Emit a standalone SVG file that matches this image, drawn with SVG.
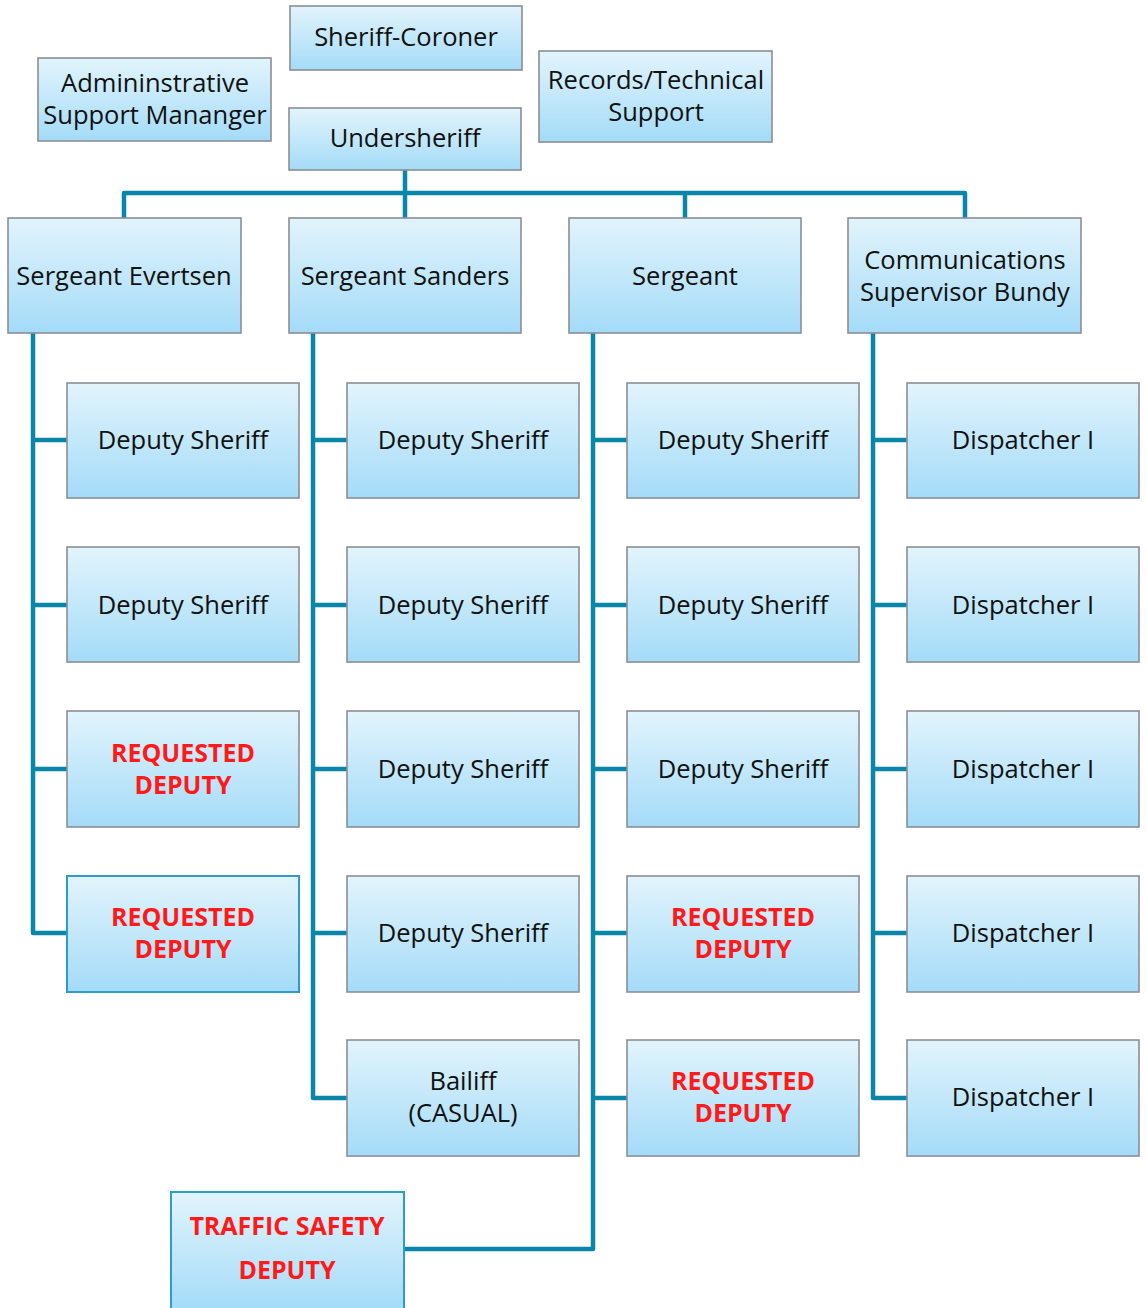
<svg xmlns="http://www.w3.org/2000/svg" width="1147" height="1308" viewBox="0 0 1147 1308">
<defs>
<linearGradient id="g" x1="0" y1="0" x2="0" y2="1">
<stop offset="0" stop-color="#e2f4fc"/>
<stop offset="1" stop-color="#a4dbf8"/>
</linearGradient>
<style>
.b{fill:url(#g);stroke:#8a8f94;stroke-width:1.6}
.r{fill:url(#g);stroke:#2e9cc6;stroke-width:2}
.t{font-family:"Open Sans","Liberation Sans",sans-serif;font-size:25.5px;fill:#111;text-anchor:middle}
.q{font-family:"Open Sans","Liberation Sans",sans-serif;font-size:25px;font-weight:bold;fill:#ff1a1a;text-anchor:middle}
.c{fill:none;stroke:#0a86a9;stroke-width:4.5;stroke-linejoin:round}
</style>
</defs>
<g id="connectors">
<path class="c" d="M405 170V218M124 218V193H965V218M685 193V218"/>
<path class="c" d="M33 333V933H67M33 440H67M33 605H67M33 769H67"/>
<path class="c" d="M313 333V1098H347M313 440H347M313 605H347M313 769H347M313 933H347"/>
<path class="c" d="M593 333V1249H404M593 440H627M593 605H627M593 769H627M593 933H627M593 1098H627"/>
<path class="c" d="M873 333V1098H907M873 440H907M873 605H907M873 769H907M873 933H907"/>
</g>
<g id="sheriff"><rect class="b" x="290" y="6" width="232" height="64"/><text class="t" x="406" y="46">Sheriff-Coroner</text></g>
<g id="admin"><rect class="b" x="38" y="58" width="233" height="83"/><text class="t" x="155" y="92">Admininstrative</text><text class="t" x="155" y="124">Support Mananger</text></g>
<g id="undersheriff"><rect class="b" x="289" y="108" width="232" height="62"/><text class="t" x="405" y="147">Undersheriff</text></g>
<g id="records"><rect class="b" x="539" y="51" width="233" height="91"/><text class="t" x="656" y="89">Records/Technical</text><text class="t" x="656" y="121">Support</text></g>
<g id="sgt-evertsen"><rect class="b" x="8" y="218" width="233" height="115"/><text class="t" x="124" y="285">Sergeant Evertsen</text></g>
<g id="sgt-sanders"><rect class="b" x="289" y="218" width="232" height="115"/><text class="t" x="405" y="285">Sergeant Sanders</text></g>
<g id="sgt"><rect class="b" x="569" y="218" width="232" height="115"/><text class="t" x="685" y="285">Sergeant</text></g>
<g id="comm"><rect class="b" x="848" y="218" width="233" height="115"/><text class="t" x="965" y="269">Communications</text><text class="t" x="965" y="301">Supervisor Bundy</text></g>

<g id="c1r1"><rect class="b" x="67" y="383" width="232" height="115"/><text class="t" x="183" y="449">Deputy Sheriff</text></g>
<g id="c1r2"><rect class="b" x="67" y="547" width="232" height="115"/><text class="t" x="183" y="614">Deputy Sheriff</text></g>
<g id="c1r3"><rect class="b" x="67" y="711" width="232" height="116"/><text class="q" x="183" y="762">REQUESTED</text><text class="q" x="183" y="794">DEPUTY</text></g>
<g id="c1r4"><rect class="r" x="67" y="876" width="232" height="116"/><text class="q" x="183" y="926">REQUESTED</text><text class="q" x="183" y="958">DEPUTY</text></g>

<g id="c2r1"><rect class="b" x="347" y="383" width="232" height="115"/><text class="t" x="463" y="449">Deputy Sheriff</text></g>
<g id="c2r2"><rect class="b" x="347" y="547" width="232" height="115"/><text class="t" x="463" y="614">Deputy Sheriff</text></g>
<g id="c2r3"><rect class="b" x="347" y="711" width="232" height="116"/><text class="t" x="463" y="778">Deputy Sheriff</text></g>
<g id="c2r4"><rect class="b" x="347" y="876" width="232" height="116"/><text class="t" x="463" y="942">Deputy Sheriff</text></g>
<g id="c2r5"><rect class="b" x="347" y="1040" width="232" height="116"/><text class="t" x="463" y="1090">Bailiff</text><text class="t" x="463" y="1122">(CASUAL)</text></g>

<g id="c3r1"><rect class="b" x="627" y="383" width="232" height="115"/><text class="t" x="743" y="449">Deputy Sheriff</text></g>
<g id="c3r2"><rect class="b" x="627" y="547" width="232" height="115"/><text class="t" x="743" y="614">Deputy Sheriff</text></g>
<g id="c3r3"><rect class="b" x="627" y="711" width="232" height="116"/><text class="t" x="743" y="778">Deputy Sheriff</text></g>
<g id="c3r4"><rect class="b" x="627" y="876" width="232" height="116"/><text class="q" x="743" y="926">REQUESTED</text><text class="q" x="743" y="958">DEPUTY</text></g>
<g id="c3r5"><rect class="b" x="627" y="1040" width="232" height="116"/><text class="q" x="743" y="1090">REQUESTED</text><text class="q" x="743" y="1122">DEPUTY</text></g>

<g id="c4r1"><rect class="b" x="907" y="383" width="232" height="115"/><text class="t" x="1023" y="449">Dispatcher I</text></g>
<g id="c4r2"><rect class="b" x="907" y="547" width="232" height="115"/><text class="t" x="1023" y="614">Dispatcher I</text></g>
<g id="c4r3"><rect class="b" x="907" y="711" width="232" height="116"/><text class="t" x="1023" y="778">Dispatcher I</text></g>
<g id="c4r4"><rect class="b" x="907" y="876" width="232" height="116"/><text class="t" x="1023" y="942">Dispatcher I</text></g>
<g id="c4r5"><rect class="b" x="907" y="1040" width="232" height="116"/><text class="t" x="1023" y="1106">Dispatcher I</text></g>

<g id="traffic"><rect class="r" x="171" y="1192" width="233" height="118"/><text class="q" x="287" y="1235">TRAFFIC SAFETY</text><text class="q" x="287" y="1279">DEPUTY</text></g>
</svg>
